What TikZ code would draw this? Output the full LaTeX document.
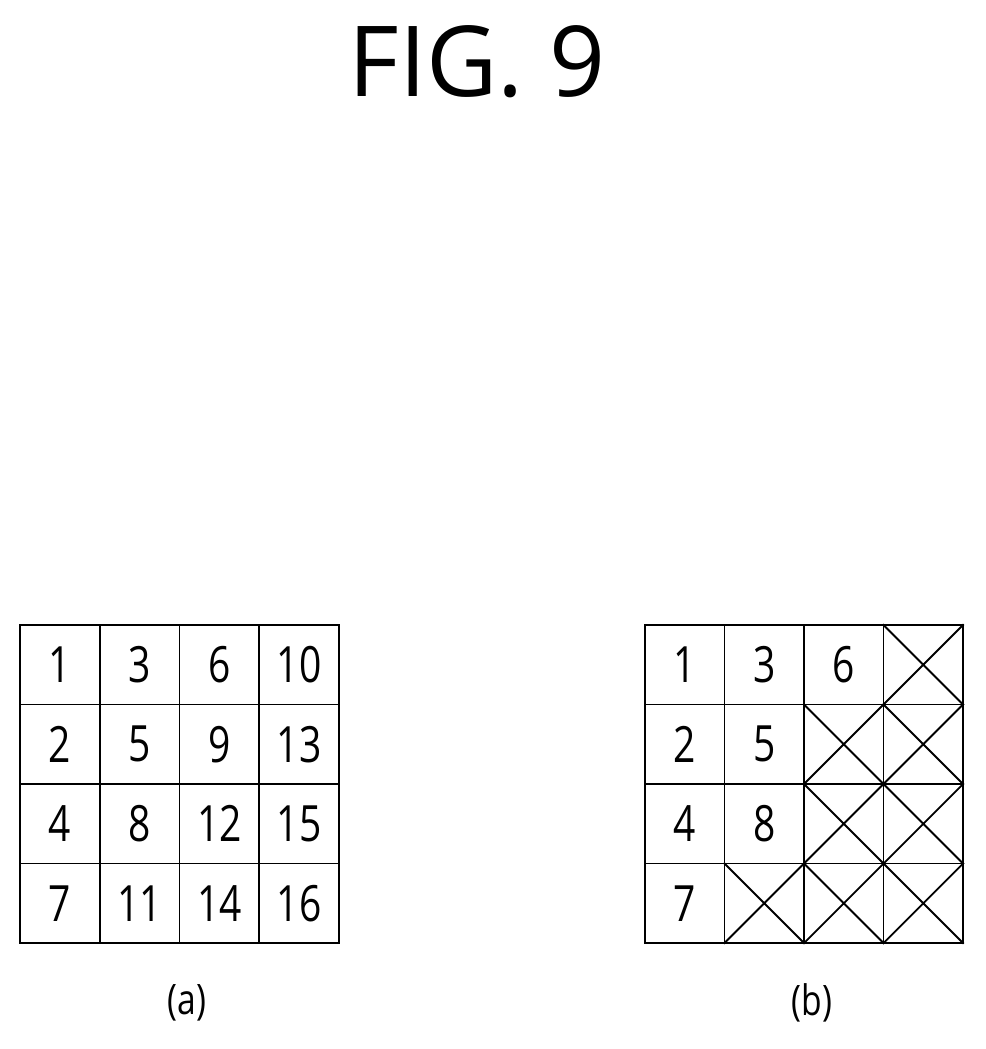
\documentclass[tikz,border=0pt]{standalone}
\usepackage{fontspec}
\setmainfont{Open Sans}
\begin{document}
\begin{tikzpicture}[x=1pt,y=-1pt,
 cell/.style={draw,line width=1.4pt,minimum width=79.5pt,minimum height=79.5pt,inner sep=0pt,font=\fontsize{50}{50}\selectfont},
 cross/.style={line width=1.8pt}]
\useasboundingbox (0,0) rectangle (985,1049);
\node[font=\fontsize{98}{98}\selectfont] (title) at (477,62) {FIG. 9};
% grid (a)
\foreach \r/\row in {1/{1,3,6,10},2/{2,5,9,13},3/{4,8,12,15},4/{7,11,14,16}}{
  \foreach \t [count=\c] in \row {
    \node[cell] (a\r\c) at ({20+79.75*(\c-0.5)},{625+79.5*(\r-0.5)}) {\scalebox{0.78}[1]{\t}};
  }}
% grid (b)
\foreach \r/\row in {1/{1,3,6,x},2/{2,5,x,x},3/{4,8,x,x},4/{7,x,x,x}}{
  \foreach \t [count=\c] in \row {
    \if x\t
      \node[cell] (b\r\c) at ({645+79.5*(\c-0.5)},{625+79.5*(\r-0.5)}) {};
      \draw[cross] (b\r\c.north west) -- (b\r\c.south east) (b\r\c.north east) -- (b\r\c.south west);
    \else
      \node[cell] (b\r\c) at ({645+79.5*(\c-0.5)},{625+79.5*(\r-0.5)}) {\scalebox{0.78}[1]{\t}};
    \fi
  }}
\node[font=\fontsize{42}{42}\selectfont] (la) at (187,1003) {\scalebox{0.8}[1]{(a)}};
\node[font=\fontsize{42}{42}\selectfont] (lb) at (812,1003) {\scalebox{0.8}[1]{(b)}};
\end{tikzpicture}
\end{document}
